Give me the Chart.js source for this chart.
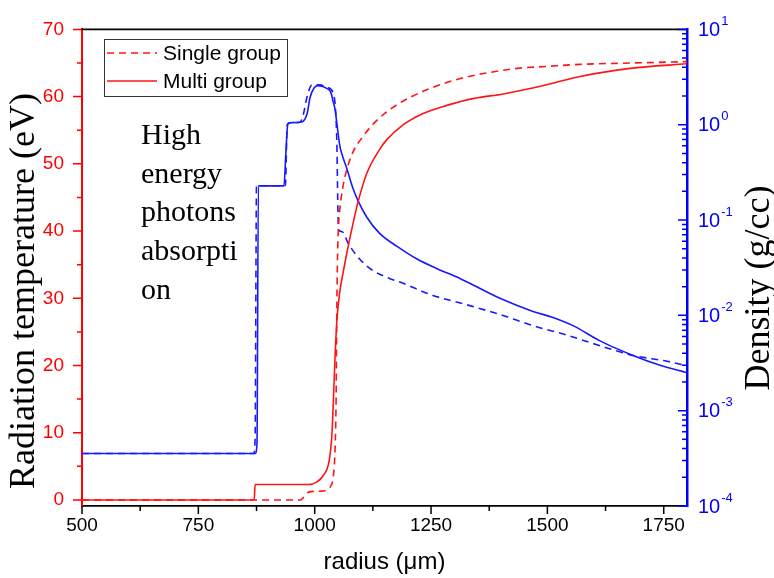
<!DOCTYPE html>
<html>
<head>
<meta charset="utf-8">
<script src="https://cdn.jsdelivr.net/npm/chart.js@4.4.1/dist/chart.umd.min.js"></script>
<style>
  html, body { margin: 0; padding: 0; background: #fff; }
</style>
</head>
<body>
<canvas id="myChart" width="774" height="578"></canvas>
<script>
// radius (um) / radiation temperature (eV)
const singleTempR = [500, 968, 988, 1010, 1026, 1034, 1040, 1044, 1046, 1047, 1048, 1049, 1051, 1054, 1060, 1065, 1080, 1104, 1134, 1168, 1211, 1263, 1319, 1377, 1435, 1500, 1570, 1680, 1800];
const singleTempT = [0, 0, 1.2, 1.3, 1.5, 2.0, 3.5, 8, 15, 24, 31, 36, 40.5, 43.3, 46.3, 48.1, 51.4, 54.1, 56.5, 58.4, 60.1, 61.6, 62.8, 63.6, 64.2, 64.5, 64.8, 65.0, 65.2];
const multiTempR = [500, 870, 872, 986, 1005, 1018, 1031, 1037, 1040, 1044, 1048, 1054, 1061, 1069, 1076, 1082, 1093, 1112, 1140, 1155, 1190, 1233, 1284, 1340, 1405, 1463, 1512, 1570, 1678, 1800];
const multiTempT = [0, 0, 2.3, 2.3, 2.7, 3.6, 5.8, 9.7, 14.5, 21.7, 27, 31, 33.8, 36.7, 39.1, 41.0, 44.3, 48.6, 52.2, 53.6, 55.8, 57.5, 58.7, 59.7, 60.4, 61.2, 62, 63, 64.2, 64.9];

// radius (um) / density (g/cc)
const singleRhoR = [500, 869, 872, 875, 937, 941, 945, 968, 975, 984, 994, 1011, 1027, 1040, 1046, 1048, 1049, 1050, 1051, 1059, 1072, 1091, 1119, 1155, 1190, 1254, 1327, 1398, 1469, 1542, 1613, 1684, 1757, 1800];
const singleRho = [3.55e-4, 3.55e-4, 5.0e-4, 0.229, 0.229, 1.0, 1.05, 1.06, 1.25, 2.0, 2.62, 2.62, 2.45, 2.14, 1.12, 0.52, 0.23, 0.12, 0.079, 0.0755, 0.0569, 0.0419, 0.0309, 0.025, 0.0217, 0.0162, 0.0129, 0.0102, 0.0078, 0.0062, 0.0048, 0.0038, 0.0033, 0.00295];
const multiRhoR = [500, 872, 876, 879, 934, 938, 942, 947, 972, 984, 990, 999, 1007, 1027, 1035, 1039, 1044, 1048, 1054, 1061, 1069, 1082, 1093, 1112, 1140, 1177, 1220, 1263, 1312, 1398, 1469, 1512, 1555, 1613, 1684, 1742, 1800];
const multiRho = [3.55e-4, 3.55e-4, 4.5e-4, 0.228, 0.228, 0.5, 1.0, 1.05, 1.07, 1.32, 1.93, 2.44, 2.56, 2.39, 2.17, 1.80, 1.42, 1.0, 0.60, 0.45, 0.348, 0.217, 0.160, 0.107, 0.072, 0.053, 0.039, 0.0309, 0.0244, 0.0151, 0.011, 0.0095, 0.0078, 0.0054, 0.0038, 0.0030, 0.0025];

const xTicks = [500, 750, 1000, 1250, 1500, 1750];
const xMinor = [625, 875, 1125, 1375, 1625];
const tempTicks = [0, 10, 20, 30, 40, 50, 60, 70];
const tempMinor = [5, 15, 25, 35, 45, 55, 65];
const rhoExp = [-4, -3, -2, -1, 0, 1];

const annotation = ['High', 'energy', 'photons', 'absorpti', 'on'];

const RED = 'rgb(255,20,20)';
const BLUE = 'rgb(25,25,255)';

function pts(xs, ys) {
  return xs.map((v, i) => ({x: v, y: ys[i]}));
}

const line = {pointRadius: 0, borderWidth: 1.6, fill: false, cubicInterpolationMode: 'monotone'};

const data = {
  datasets: [
    {...line, label: 'Single group', data: pts(singleTempR, singleTempT), yAxisID: 'y', borderColor: RED, borderDash: [7, 5]},
    {...line, label: 'Multi group', data: pts(multiTempR, multiTempT), yAxisID: 'y', borderColor: RED},
    {...line, label: 'Single group density', data: pts(singleRhoR, singleRho), yAxisID: 'y1', borderColor: BLUE, borderDash: [7, 5]},
    {...line, label: 'Multi group density', data: pts(multiRhoR, multiRho), yAxisID: 'y1', borderColor: BLUE}
  ]
};

const sans = '"Liberation Sans", Arial, sans-serif';
const serif = '"Liberation Serif", "Times New Roman", serif';

// axis ticks, titles, legend and the text note
const decor = {
  id: 'decor',
  afterDraw(chart) {
    const {ctx, chartArea: a, scales} = chart;
    const sx = scales.x, sy = scales.y, sr = scales.y1;
    ctx.save();

    // top frame
    ctx.strokeStyle = '#000';
    ctx.lineWidth = 1.6;
    ctx.beginPath();
    ctx.moveTo(a.left, a.top);
    ctx.lineTo(a.right, a.top);
    ctx.stroke();

    // bottom ticks
    ctx.lineWidth = 1.5;
    ctx.beginPath();
    xTicks.forEach(v => { const p = sx.getPixelForValue(v); ctx.moveTo(p, a.bottom); ctx.lineTo(p, a.bottom + 8); });
    xMinor.forEach(v => { const p = sx.getPixelForValue(v); ctx.moveTo(p, a.bottom); ctx.lineTo(p, a.bottom + 5); });
    ctx.stroke();

    // left ticks
    ctx.strokeStyle = 'rgb(255,0,0)';
    ctx.beginPath();
    tempTicks.forEach(v => { const p = sy.getPixelForValue(v); ctx.moveTo(a.left - 9, p); ctx.lineTo(a.left, p); });
    tempMinor.forEach(v => { const p = sy.getPixelForValue(v); ctx.moveTo(a.left - 5, p); ctx.lineTo(a.left, p); });
    ctx.stroke();

    // right ticks (inward) and labels
    ctx.strokeStyle = 'rgb(0,0,255)';
    ctx.beginPath();
    rhoExp.forEach(e => {
      const p = sr.getPixelForValue(Math.pow(10, e));
      ctx.moveTo(a.right - 9, p); ctx.lineTo(a.right, p);
      if (e < 1) {
        for (let k = 2; k <= 9; k++) {
          const q = sr.getPixelForValue(k * Math.pow(10, e));
          ctx.moveTo(a.right - 5, q); ctx.lineTo(a.right, q);
        }
      }
    });
    ctx.stroke();

    ctx.fillStyle = 'rgb(0,0,255)';
    ctx.textAlign = 'left';
    ctx.textBaseline = 'middle';
    rhoExp.forEach(e => {
      const p = sr.getPixelForValue(Math.pow(10, e));
      ctx.font = '20px ' + sans;
      ctx.fillText('10', a.right + 11, p + 1);
      const w = ctx.measureText('10').width;
      ctx.font = '13px ' + sans;
      ctx.fillText(String(e), a.right + 12 + w, p - 8);
    });

    // axis titles
    ctx.fillStyle = '#000';
    ctx.textAlign = 'center';
    ctx.textBaseline = 'alphabetic';
    ctx.font = '36px ' + serif;
    ctx.save();
    ctx.translate(34, 291);
    ctx.rotate(-Math.PI / 2);
    ctx.fillText('Radiation temperature (eV)', 0, 0);
    ctx.restore();
    ctx.save();
    ctx.translate(769, 288);
    ctx.rotate(-Math.PI / 2);
    ctx.fillText('Density (g/cc)', 0, 0);
    ctx.restore();

    // note
    ctx.textAlign = 'left';
    ctx.font = '30px ' + serif;
    annotation.forEach((t, i) => ctx.fillText(t, 141, 144 + i * 38.7));

    // legend
    ctx.fillStyle = '#fff';
    ctx.fillRect(104.5, 39.5, 183, 57);
    ctx.strokeStyle = '#333';
    ctx.lineWidth = 1;
    ctx.strokeRect(104.5, 39.5, 183, 57);
    ctx.strokeStyle = RED;
    ctx.lineWidth = 1.6;
    ctx.setLineDash([7, 5]);
    ctx.beginPath(); ctx.moveTo(107, 53); ctx.lineTo(157, 53); ctx.stroke();
    ctx.setLineDash([]);
    ctx.beginPath(); ctx.moveTo(107, 81); ctx.lineTo(157, 81); ctx.stroke();
    ctx.fillStyle = '#000';
    ctx.textBaseline = 'middle';
    ctx.font = '21px ' + sans;
    ctx.fillText('Single group', 163, 54);
    ctx.fillText('Multi group', 163, 82);

    ctx.restore();
  }
};

const options = {
  responsive: false,
  animation: false,
  layout: { padding: { top: 17, left: 0, right: 0, bottom: 0 } },
  plugins: { legend: { display: false }, tooltip: { enabled: false } },
  scales: {
    x: {
      type: 'linear', min: 500, max: 1800,
      afterBuildTicks: s => { s.ticks = xTicks.map(v => ({value: v})); },
      afterFit: s => { s.height = 72; },
      grid: { display: false, drawTicks: false },
      border: { display: true, color: '#000', width: 1.8 },
      ticks: { color: '#000', font: { family: sans, size: 19 }, padding: 8, maxRotation: 0, callback: v => String(v) },
      title: { display: true, text: 'radius (μm)', color: '#000', font: { family: sans, size: 24 }, padding: { top: 0, bottom: 1 } }
    },
    y: {
      position: 'left', min: -0.9, max: 70,
      afterBuildTicks: s => { s.ticks = tempTicks.map(v => ({value: v})); },
      afterFit: s => { s.width = 82; },
      grid: { display: false, drawTicks: false },
      border: { display: true, color: 'rgb(255,0,0)', width: 2 },
      ticks: { color: 'rgb(255,0,0)', font: { family: sans, size: 19 }, padding: 18, callback: v => String(v) }
    },
    y1: {
      type: 'logarithmic', position: 'right', min: 1e-4, max: 10,
      afterBuildTicks: s => { s.ticks = rhoExp.map(e => ({value: Math.pow(10, e)})); },
      afterFit: s => { s.width = 87; },
      grid: { display: false, drawTicks: false },
      border: { display: true, color: 'rgb(0,0,255)', width: 2.5 },
      ticks: { display: false }
    }
  }
};

const config = {
  type: 'line',
  data: data,
  options: options,
  plugins: [decor]
};

const myChart = new Chart(document.getElementById('myChart'), config);
</script>
</body>
</html>
